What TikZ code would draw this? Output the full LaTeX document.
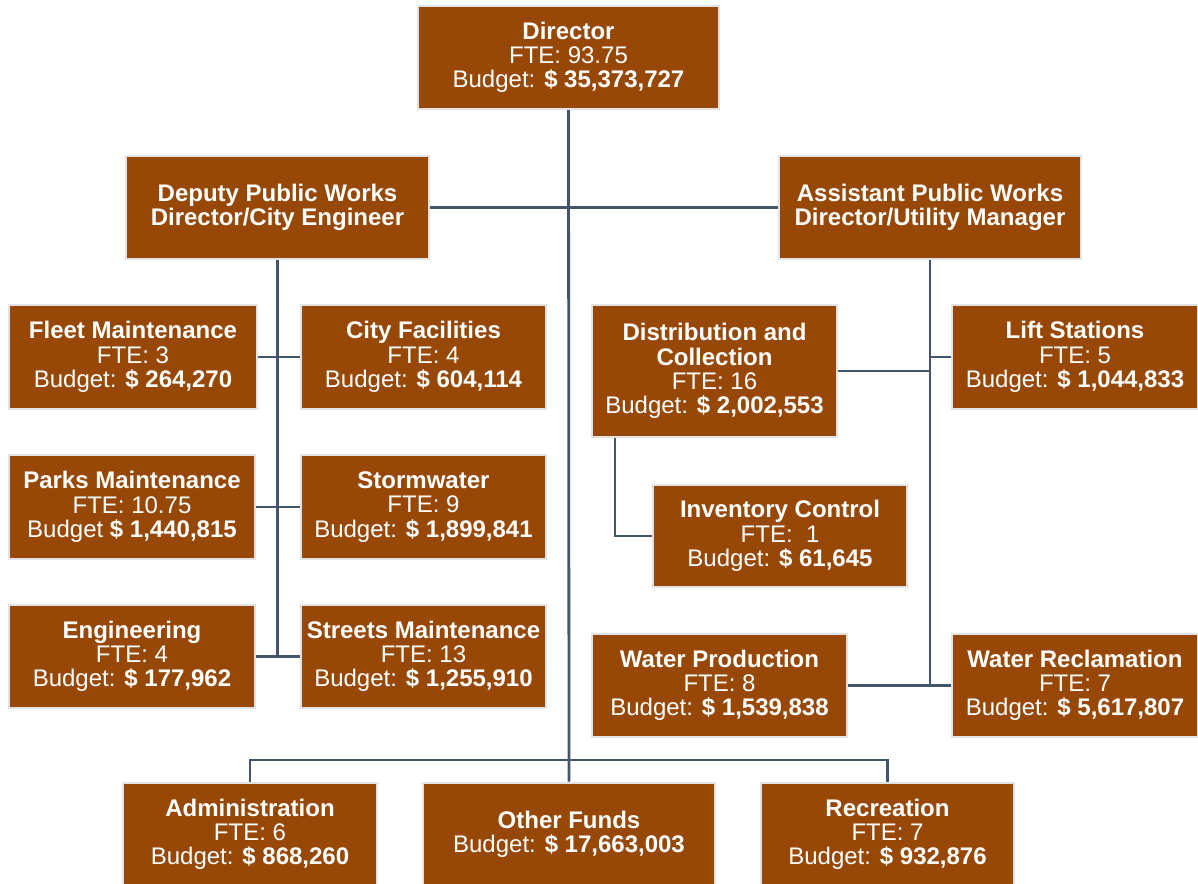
\documentclass[tikz,border=0pt]{standalone}
\usepackage{fontspec}
\setmainfont{Liberation Sans}
\definecolor{boxfill}{HTML}{984806}
\definecolor{boxedge}{HTML}{E2E2E2}
\definecolor{linecol}{HTML}{44546A}
\pgfdeclarelayer{background}
\pgfsetlayers{background,main}
\tikzset{
  orgbox/.style={draw=boxedge, line width=1.5pt, fill=boxfill, text=white,
    inner sep=0pt, align=center, font=\fontsize{18}{18.2}\selectfont,
    execute at begin node={\rule{0pt}{16pt}}},
  bsize/.style n args={2}{minimum width=#1*0.75pt, minimum height=#2*0.75pt},
  conn/.style={draw=linecol, line width=2.1pt}
}
\begin{document}
\begin{tikzpicture}[x=0.75pt,y=-0.75pt]
\useasboundingbox (0,0) rectangle (1198,884);
% top levels
\node[orgbox,bsize={301}{103}] (dir) at (568.5,57.5) {\textbf{Director}\\FTE: 93.75\\Budget: \textbf{\$ 35,373,727}};
\node[orgbox,bsize={303}{103}] (dep) at (277.5,207.5) {\textbf{Deputy Public Works}\\\textbf{Director/City Engineer}};
\node[orgbox,bsize={302}{103}] (asst) at (930,207.5) {\textbf{Assistant Public Works}\\\textbf{Director/Utility Manager}};
% left column
\node[orgbox,bsize={248}{104}] (fleet) at (133,357) {\textbf{Fleet Maintenance}\\FTE: 3\\Budget: \textbf{\$ 264,270}};
\node[orgbox,bsize={245}{104}] (cityf) at (423.5,357) {\textbf{City Facilities}\\FTE: 4\\Budget: \textbf{\$ 604,114}};
\node[orgbox,bsize={246}{104}] (parks) at (132,507) {\textbf{Parks Maintenance}\\FTE: 10.75\\Budget \textbf{\$ 1,440,815}};
\node[orgbox,bsize={245}{104}] (storm) at (423.5,507) {\textbf{Stormwater}\\FTE: 9\\Budget: \textbf{\$ 1,899,841}};
\node[orgbox,bsize={246}{103}] (eng) at (132,656.5) {\textbf{Engineering}\\FTE: 4\\Budget: \textbf{\$ 177,962}};
\node[orgbox,bsize={245}{103}] (streets) at (423.5,656.5) {\textbf{Streets Maintenance}\\FTE: 13\\Budget: \textbf{\$ 1,255,910}};
% right column
\node[orgbox,bsize={245}{132}] (dist) at (714.5,371) {\textbf{Distribution and}\\\textbf{Collection}\\FTE: 16\\Budget: \textbf{\$ 2,002,553}};
\node[orgbox,bsize={246}{104}] (lift) at (1075,357) {\textbf{Lift Stations}\\FTE: 5\\Budget: \textbf{\$ 1,044,833}};
\node[orgbox,bsize={254}{102}] (inv) at (780,536) {\textbf{Inventory Control}\\FTE:\ \ 1\\Budget: \textbf{\$ 61,645}};
\node[orgbox,bsize={255}{103}] (wprod) at (719.5,685.5) {\textbf{Water Production}\\FTE: 8\\Budget: \textbf{\$ 1,539,838}};
\node[orgbox,bsize={246}{103}] (wrec) at (1075,685.5) {\textbf{Water Reclamation}\\FTE: 7\\Budget: \textbf{\$ 5,617,807}};
% bottom row
\node[orgbox,bsize={254}{104}] (admin) at (250,834.5) {\textbf{Administration}\\FTE: 6\\Budget: \textbf{\$ 868,260}};
\node[orgbox,bsize={292}{104}] (other) at (569,834.5) {\textbf{Other Funds}\\Budget: \textbf{\$ 17,663,003}};
\node[orgbox,bsize={253}{104}] (rec) at (887.5,834.5) {\textbf{Recreation}\\FTE: 7\\Budget: \textbf{\$ 932,876}};
\coordinate (bar) at (569,760);
\coordinate (invtap) at (615,438);
\begin{pgfonlayer}{background}
\draw[conn] (dir.south) -- (other.north);
\draw[conn] (dep.east) -- (asst.west);
\draw[conn] (dep.south) -- (dep.south |- eng.east);
\draw[conn] (fleet.east) -- (cityf.west);
\draw[conn] (parks.east) -- (storm.west);
\draw[conn] (eng.east) -- (streets.west);
\draw[conn] (asst.south) -- (asst.south |- wprod.east);
\draw[conn] (lift.west) -- (lift.west -| asst.south);
\draw[conn] (dist.east) -- (dist.east -| asst.south);
\draw[conn] (wprod.east) -- (wrec.west);
\draw[conn] (invtap |- dist.south) |- (inv.west);
\draw[conn] (admin.north) |- (bar) -| (rec.north);
\end{pgfonlayer}
\end{tikzpicture}
\end{document}
